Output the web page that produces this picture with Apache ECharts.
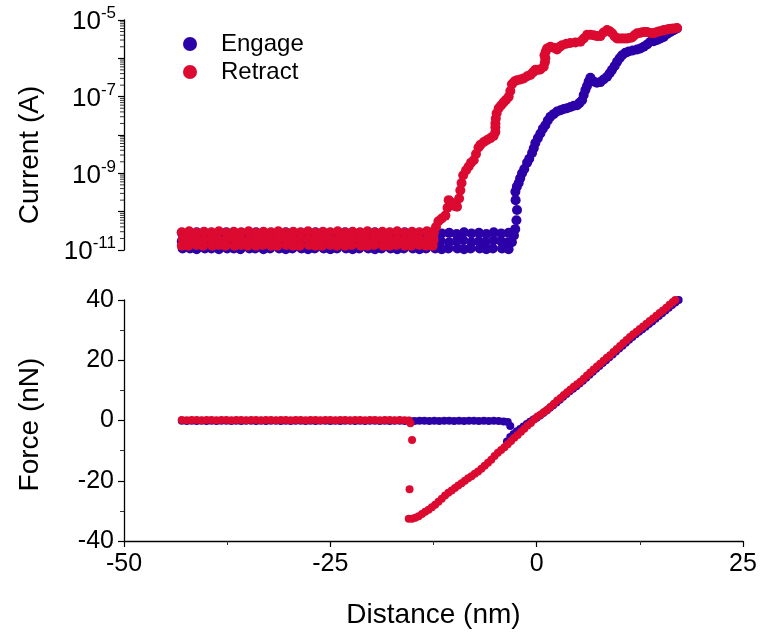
<!DOCTYPE html>
<html>
<head>
<meta charset="utf-8">
<script src="https://cdn.jsdelivr.net/npm/echarts@6/dist/echarts.min.js"></script>
<style>
html,body{margin:0;padding:0;background:#fff;}
#chart{width:762px;height:634px;}
</style>
</head>
<body>
<div id="chart"></div>
<script>
// ---------------- DATA ----------------
const xTicks = [-50, -25, 0, 25];
const currentTickExponents = [-11, -9, -7, -5];
const forceTicks = [-40, -20, 0, 20, 40];
const seriesNames = ['Engage', 'Retract'];

// Top panel: Current (A) vs Distance (nm)
const engageCurrentFloor = [
[-43.0,2.8e-11],[-43.0,1.7e-11],[-42.9,1.1e-11],
[-42.1,2.6e-11],[-42.0,1.6e-11],[-42.0,1.1e-11],
[-41.2,2.9e-11],[-41.1,1.8e-11],[-41.2,1.05e-11],
[-40.3,2.7e-11],[-40.3,1.6e-11],[-40.2,1.1e-11],
[-39.4,2.8e-11],[-39.5,1.7e-11],[-39.4,1.1e-11],
[-38.5,2.6e-11],[-38.4,1.6e-11],[-38.5,1.05e-11],
[-37.6,2.9e-11],[-37.6,1.8e-11],[-37.5,1.1e-11],
[-36.7,2.7e-11],[-36.8,1.6e-11],[-36.7,1.1e-11],
[-35.8,2.8e-11],[-35.8,1.7e-11],[-35.9,1.05e-11],
[-34.9,2.6e-11],[-34.9,1.6e-11],[-34.8,1.1e-11],
[-34.0,2.9e-11],[-34.0,1.8e-11],[-34.1,1.1e-11],
[-33.1,2.7e-11],[-33.2,1.7e-11],[-33.1,1.05e-11],
[-32.2,2.8e-11],[-32.2,1.6e-11],[-32.3,1.1e-11],
[-31.3,2.6e-11],[-31.3,1.7e-11],[-31.2,1.1e-11],
[-30.4,2.9e-11],[-30.5,1.8e-11],[-30.4,1.05e-11],
[-29.5,2.7e-11],[-29.5,1.6e-11],[-29.6,1.1e-11],
[-28.6,2.8e-11],[-28.6,1.7e-11],[-28.5,1.1e-11],
[-27.7,2.6e-11],[-27.8,1.6e-11],[-27.7,1.05e-11],
[-26.8,2.9e-11],[-26.8,1.8e-11],[-26.9,1.1e-11],
[-25.9,2.7e-11],[-25.9,1.7e-11],[-25.8,1.1e-11],
[-25.0,2.8e-11],[-25.1,1.6e-11],[-25.0,1.05e-11],
[-24.1,2.6e-11],[-24.1,1.7e-11],[-24.2,1.1e-11],
[-23.2,2.9e-11],[-23.2,1.8e-11],[-23.1,1.1e-11],
[-22.3,2.7e-11],[-22.4,1.6e-11],[-22.3,1.05e-11],
[-21.4,2.8e-11],[-21.4,1.7e-11],[-21.5,1.1e-11],
[-20.5,2.6e-11],[-20.5,1.6e-11],[-20.4,1.1e-11],
[-19.6,2.9e-11],[-19.7,1.8e-11],[-19.6,1.05e-11],
[-18.7,2.7e-11],[-18.7,1.7e-11],[-18.8,1.1e-11],
[-17.8,2.8e-11],[-17.8,1.6e-11],[-17.7,1.1e-11],
[-16.9,2.6e-11],[-17.0,1.7e-11],[-16.9,1.05e-11],
[-16.0,2.9e-11],[-16.0,1.8e-11],[-16.1,1.1e-11],
[-15.1,2.7e-11],[-15.1,1.6e-11],[-15.0,1.1e-11],
[-14.2,2.8e-11],[-14.3,1.7e-11],[-14.2,1.05e-11],
[-13.3,2.6e-11],[-13.3,1.6e-11],[-13.4,1.1e-11],
[-12.4,2.9e-11],[-12.4,1.8e-11],[-12.3,1.1e-11],
[-11.5,2.7e-11],[-11.6,1.7e-11],[-11.5,1.05e-11],
[-10.6,2.8e-11],[-10.6,1.6e-11],[-10.7,1.1e-11],
[-9.7,2.6e-11],[-9.7,1.7e-11],[-9.6,1.1e-11],
[-8.8,2.9e-11],[-8.9,1.8e-11],[-8.8,1.05e-11],
[-7.9,2.7e-11],[-7.9,1.6e-11],[-8.0,1.1e-11],
[-7.0,2.8e-11],[-7.0,1.7e-11],[-6.9,1.1e-11],
[-6.1,2.6e-11],[-6.2,1.6e-11],[-6.1,1.05e-11],
[-5.2,2.9e-11],[-5.2,1.8e-11],[-5.3,1.1e-11],
[-4.3,2.7e-11],[-4.3,1.7e-11],[-4.2,1.1e-11],
[-3.4,2.8e-11],[-3.5,1.6e-11],[-3.4,1.05e-11]
];
const engageCurrentRise = [
[-3.0,1.6e-11],[-2.75,2.4e-11],[-2.6,3.5e-11],[-2.45,6.0e-11],[-2.38,1.1e-10],
[-2.55,2.0e-10],[-2.58,3.3e-10],[-2.4,4.5e-10],[-2.18,5.6e-10],[-2.0,7.4e-10],
[-1.77,1.0e-9],[-1.5,1.3e-9],[-1.16,1.9e-9],[-0.9,2.4e-9],[-0.56,3.4e-9],
[-0.35,4.5e-9],[-0.16,6.2e-9],[0.15,8.3e-9],[0.45,1.1e-8],[0.75,1.45e-8],
[1.05,1.8e-8],[1.35,2.4e-8],[1.66,3.0e-8],[2.05,3.5e-8],[2.47,4.1e-8],
[2.9,4.4e-8],[3.3,4.8e-8],[3.68,5.0e-8],[4.1,5.4e-8],[4.5,5.8e-8],
[4.9,6.0e-8],[5.2,6.9e-8],[5.5,8.1e-8],[5.7,1.1e-7],[5.9,1.5e-7],
[6.1,1.9e-7],[6.3,2.5e-7],[6.51,3.1e-7],[6.9,2.5e-7],[7.3,2.3e-7],
[7.72,2.4e-7],[8.1,2.8e-7],[8.53,3.3e-7],[8.85,4.1e-7],[9.13,5.0e-7],
[9.45,6.3e-7],[9.74,8.1e-7],[10.05,1.0e-6],[10.35,1.2e-6],[10.75,1.4e-6],
[11.15,1.5e-6],[11.65,1.6e-6],[12.17,1.7e-6],[12.57,1.8e-6],[12.97,2.0e-6],
[13.38,2.3e-6],[13.78,2.7e-6],[14.19,2.8e-6],[14.59,3.0e-6],[15.0,3.3e-6],
[15.39,3.6e-6],[15.8,4.3e-6],[16.2,4.9e-6],[16.6,5.4e-6],[17.0,6.0e-6]
];
const retractCurrentFloor = [
[-43.0,2.9e-11],[-42.9,1.9e-11],[-43.0,1.3e-11],
[-42.1,3.1e-11],[-42.1,2.0e-11],[-42.2,1.3e-11],
[-41.2,2.8e-11],[-41.3,1.9e-11],[-41.2,1.35e-11],
[-40.3,3.0e-11],[-40.3,1.9e-11],[-40.4,1.3e-11],
[-39.4,2.9e-11],[-39.4,2.0e-11],[-39.3,1.3e-11],
[-38.5,3.1e-11],[-38.6,1.9e-11],[-38.5,1.35e-11],
[-37.6,2.8e-11],[-37.6,1.9e-11],[-37.7,1.3e-11],
[-36.7,3.0e-11],[-36.7,2.0e-11],[-36.6,1.3e-11],
[-35.8,2.9e-11],[-35.9,1.9e-11],[-35.8,1.35e-11],
[-34.9,3.1e-11],[-34.9,1.9e-11],[-35.0,1.3e-11],
[-34.0,2.8e-11],[-34.0,2.0e-11],[-34.0,1.3e-11],
[-33.1,3.0e-11],[-33.1,1.9e-11],[-33.2,1.35e-11],
[-32.2,2.9e-11],[-32.3,1.9e-11],[-32.2,1.3e-11],
[-31.3,3.1e-11],[-31.3,2.0e-11],[-31.4,1.3e-11],
[-30.4,2.8e-11],[-30.4,1.9e-11],[-30.3,1.35e-11],
[-29.5,3.0e-11],[-29.6,1.9e-11],[-29.5,1.3e-11],
[-28.6,2.9e-11],[-28.6,2.0e-11],[-28.7,1.3e-11],
[-27.7,3.1e-11],[-27.7,1.9e-11],[-27.6,1.35e-11],
[-26.8,2.8e-11],[-26.9,1.9e-11],[-26.8,1.3e-11],
[-25.9,3.0e-11],[-25.9,2.0e-11],[-26.0,1.3e-11],
[-25.0,2.9e-11],[-25.0,1.9e-11],[-25.0,1.35e-11],
[-24.1,3.1e-11],[-24.1,1.9e-11],[-24.2,1.3e-11],
[-23.2,2.8e-11],[-23.3,2.0e-11],[-23.2,1.3e-11],
[-22.3,3.0e-11],[-22.3,1.9e-11],[-22.4,1.35e-11],
[-21.4,2.9e-11],[-21.4,1.9e-11],[-21.3,1.3e-11],
[-20.5,3.1e-11],[-20.6,2.0e-11],[-20.5,1.3e-11],
[-19.6,2.8e-11],[-19.6,1.9e-11],[-19.7,1.35e-11],
[-18.7,3.0e-11],[-18.7,1.9e-11],[-18.6,1.3e-11],
[-17.8,2.9e-11],[-17.9,2.0e-11],[-17.8,1.3e-11],
[-16.9,3.1e-11],[-16.9,1.9e-11],[-17.0,1.35e-11],
[-16.0,2.8e-11],[-16.0,1.9e-11],[-16.0,1.3e-11],
[-15.1,3.0e-11],[-15.1,2.0e-11],[-15.2,1.3e-11],
[-14.2,2.9e-11],[-14.3,1.9e-11],[-14.2,1.35e-11],
[-13.3,3.1e-11],[-13.3,1.9e-11],[-13.4,1.3e-11],
[-12.7,2.9e-11],[-12.6,1.9e-11],[-12.6,1.3e-11]
];
const retractCurrentRise = [
[-12.5,1.8e-11],[-12.45,2.8e-11],[-12.2,4.0e-11],[-11.9,5.6e-11],[-11.5,6.6e-11],
[-11.06,7.9e-11],[-10.8,1.26e-10],[-10.66,2.0e-10],[-10.3,1.7e-10],[-9.95,1.4e-10],
[-9.65,1.35e-10],[-9.4,2.2e-10],[-9.25,3.6e-10],[-9.1,5.6e-10],[-8.9,8.9e-10],
[-8.55,1.2e-9],[-8.24,1.5e-9],[-7.95,1.9e-9],[-7.63,2.2e-9],[-7.35,3.2e-9],
[-7.05,4.7e-9],[-6.8,5.6e-9],[-6.4,6.6e-9],[-6.01,7.4e-9],[-5.6,8.3e-9],
[-5.21,9.5e-9],[-5.0,1.2e-8],[-5.0,1.6e-8],[-5.0,2.0e-8],[-4.95,2.7e-8],
[-4.85,3.7e-8],[-4.6,5.0e-8],[-4.3,6.0e-8],[-4.0,7.1e-8],[-3.7,8.3e-8],
[-3.39,1.0e-7],[-3.19,1.4e-7],[-3.0,2.1e-7],[-2.7,2.5e-7],[-2.38,2.7e-7],
[-1.98,2.8e-7],[-1.58,3.0e-7],[-1.15,3.4e-7],[-0.76,3.7e-7],[-0.45,4.3e-7],
[-0.16,5.0e-7],[0.15,5.0e-7],[0.45,5.1e-7],[0.85,6.0e-7],[1.0,7.9e-7],
[1.05,1.0e-6],[0.95,1.2e-6],[1.1,1.5e-6],[1.26,1.8e-6],[1.66,2.0e-6],
[2.05,1.9e-6],[2.47,1.7e-6],[2.8,2.0e-6],[3.08,2.2e-6],[3.6,2.4e-6],
[4.08,2.5e-6],[4.7,2.6e-6],[5.3,2.7e-6],[5.7,3.3e-6],[6.11,4.1e-6],
[6.5,4.1e-6],[6.91,4.0e-6],[7.3,3.8e-6],[7.72,3.8e-6],[8.1,4.7e-6],
[8.53,5.5e-6],[8.85,5.1e-6],[9.14,4.5e-6],[9.45,3.7e-6],[9.74,3.3e-6],
[10.05,3.3e-6],[10.35,3.3e-6],[10.65,3.3e-6],[10.95,3.3e-6],[11.25,3.4e-6],
[11.55,3.5e-6],[11.85,4.0e-6],[12.17,4.5e-6],[12.5,4.6e-6],[12.8,4.8e-6],
[13.1,4.9e-6],[13.38,4.9e-6],[13.8,4.6e-6],[14.18,4.5e-6],[14.5,4.8e-6],
[14.8,5.0e-6],[15.1,5.2e-6],[15.39,5.5e-6],[15.7,5.6e-6],[16.0,5.8e-6],
[16.3,5.9e-6],[16.6,6.0e-6],[17.0,6.2e-6]
];

// Bottom panel: Force (nN) vs Distance (nm)
const engageForceFlat = [
[-43.0,-0.1],[-42.4,-0.2],[-41.8,-0.1],[-41.2,-0.2],[-40.6,-0.1],[-40.0,-0.2],
[-39.4,-0.1],[-38.8,-0.2],[-38.2,-0.1],[-37.6,-0.1],[-37.0,-0.2],[-36.4,-0.1],
[-35.8,-0.2],[-35.2,-0.1],[-34.6,-0.1],[-34.0,-0.2],[-33.4,-0.1],[-32.8,-0.2],
[-32.2,-0.1],[-31.6,-0.1],[-31.0,-0.2],[-30.4,-0.1],[-29.8,-0.2],[-29.2,-0.1],
[-28.6,-0.1],[-28.0,-0.2],[-27.4,-0.1],[-26.8,-0.2],[-26.2,-0.1],[-25.6,-0.1],
[-25.0,-0.2],[-24.4,-0.1],[-23.8,-0.2],[-23.2,-0.1],[-22.6,-0.1],[-22.0,-0.2],
[-21.4,-0.1],[-20.8,-0.2],[-20.2,-0.1],[-19.6,-0.1],[-19.0,-0.2],[-18.4,-0.1],
[-17.8,-0.2],[-17.2,-0.1],[-16.6,-0.1],[-16.0,-0.2],[-15.4,-0.1],[-14.8,-0.2],
[-14.2,-0.1],[-13.6,-0.1],[-13.0,-0.2],[-12.4,-0.1],[-11.8,-0.2],[-11.2,-0.1],
[-10.6,-0.1],[-10.0,-0.2],[-9.4,-0.1],[-8.8,-0.2],[-8.2,-0.1],[-7.6,-0.1],
[-7.0,-0.2],[-6.4,-0.1],[-5.8,-0.2],[-5.2,-0.1],[-4.6,-0.2],[-4.0,-0.3],
[-3.5,-0.5],[-3.2,-1.8]
];
const engageForceContact = [
[-3.6,-7.0],[-3.2,-5.5],[-2.8,-4.5],[-2.4,-3.6],[-2.0,-2.8],[-1.6,-2.0],
[-1.2,-1.2],[-0.8,-0.4],[-0.4,0.3],[0.0,0.9],[0.4,1.7],[0.8,2.5],
[1.2,3.3],[1.6,4.2],[2.0,5.1],[2.4,6.0],[2.8,6.9],[3.2,7.9],
[3.6,8.8],[4.0,9.7],[4.4,10.5],[4.8,11.4],[5.2,12.3],[5.6,13.2],
[6.0,14.2],[6.4,15.2],[6.8,16.2],[7.2,17.2],[7.6,18.1],[8.0,19.1],
[8.4,20.0],[8.8,21.0],[9.2,21.9],[9.6,22.9],[10.0,23.9],[10.4,24.8],
[10.8,25.8],[11.2,26.8],[11.6,27.7],[12.0,28.6],[12.4,29.5],[12.8,30.3],
[13.2,31.1],[13.6,32.0],[14.0,32.9],[14.4,33.8],[14.8,34.7],[15.2,35.6],
[15.6,36.5],[16.0,37.4],[16.4,38.3],[16.8,39.2],[17.2,40.0]
];
const retractForceFlat = [
[-43.0,0.2],[-42.4,0.1],[-41.8,0.2],[-41.2,0.2],[-40.6,0.1],[-40.0,0.2],
[-39.4,0.2],[-38.8,0.1],[-38.2,0.2],[-37.6,0.2],[-37.0,0.1],[-36.4,0.2],
[-35.8,0.2],[-35.2,0.1],[-34.6,0.2],[-34.0,0.2],[-33.4,0.1],[-32.8,0.2],
[-32.2,0.2],[-31.6,0.1],[-31.0,0.2],[-30.4,0.2],[-29.8,0.1],[-29.2,0.2],
[-28.6,0.2],[-28.0,0.1],[-27.4,0.2],[-26.8,0.2],[-26.2,0.1],[-25.6,0.2],
[-25.0,0.2],[-24.4,0.1],[-23.8,0.2],[-23.2,0.2],[-22.6,0.1],[-22.0,0.2],
[-21.4,0.2],[-20.8,0.1],[-20.2,0.2],[-19.6,0.2],[-19.0,0.1],[-18.4,0.2],
[-17.8,0.2],[-17.2,0.1],[-16.6,0.2],[-16.0,0.1],[-15.5,0.0],
[-15.3,-0.9],[-15.1,-6.5],[-15.4,-22.8]
];
const retractForceContact = [
[-15.5,-32.6],[-15.1,-32.6],[-14.7,-32.3],[-14.3,-31.8],[-13.9,-31.0],[-13.5,-30.3],
[-13.1,-29.6],[-12.7,-28.8],[-12.3,-28.0],[-11.9,-27.0],[-11.5,-26.0],[-11.1,-24.9],
[-10.7,-24.0],[-10.3,-23.2],[-9.9,-22.4],[-9.5,-21.6],[-9.1,-20.8],[-8.7,-20.0],
[-8.3,-19.2],[-7.9,-18.5],[-7.5,-17.7],[-7.1,-16.9],[-6.7,-16.0],[-6.3,-15.0],
[-5.9,-14.0],[-5.5,-13.0],[-5.1,-11.8],[-4.7,-10.7],[-4.3,-9.8],[-3.9,-8.9],
[-3.5,-7.9],[-3.1,-6.8],[-2.7,-5.7],[-2.3,-4.8],[-1.9,-3.7],[-1.5,-2.7],
[-1.1,-1.7],[-0.7,-0.8],[-0.3,0.3],[0.1,1.3],[0.5,2.0],[0.9,2.8],
[1.3,3.6],[1.7,4.6],[2.1,5.6],[2.5,6.6],[2.9,7.5],[3.3,8.5],
[3.7,9.4],[4.1,10.3],[4.5,11.2],[4.9,12.0],[5.3,12.9],[5.7,13.9],
[6.1,14.9],[6.5,15.9],[6.9,16.9],[7.3,17.9],[7.7,18.8],[8.1,19.8],
[8.5,20.8],[8.9,21.7],[9.3,22.7],[9.7,23.7],[10.1,24.7],[10.5,25.7],
[10.9,26.7],[11.3,27.7],[11.7,28.6],[12.1,29.5],[12.5,30.4],[12.9,31.2],
[13.3,32.1],[13.7,33.0],[14.1,33.9],[14.5,34.8],[14.9,35.7],[15.3,36.5],
[15.7,37.4],[16.1,38.4],[16.5,39.3],[16.8,40.0]
];

// ---------------- STYLE ----------------
const FONT = '"Liberation Sans", Arial, Helvetica, sans-serif';
const BLUE = '#2c00a8';
const RED = '#dc0a30';
const AXIS = '#000';

// log-axis minor tick positions (axis decoration only)
const logMinorTicks = [];
for (let e = -11; e < -5; e++) {
  for (let k = 2; k <= 9; k++) logMinorTicks.push([xTicks[0], k * Math.pow(10, e)]);
}

const chart = echarts.init(document.getElementById('chart'), null, {renderer: 'canvas'});

const option = {
  animation: false,
  backgroundColor: '#fff',
  grid: [
    {left: 124, width: 619, top: 20, height: 230},
    {left: 124, width: 619, top: 300, height: 241}
  ],
  legend: {
    data: seriesNames,
    orient: 'vertical',
    left: 178,
    top: 27,
    itemGap: 4,
    itemWidth: 14,
    itemHeight: 14,
    icon: 'circle',
    textStyle: {fontFamily: FONT, fontSize: 24, color: '#000', padding: [0, 0, 0, 19]}
  },
  xAxis: [
    {
      gridIndex: 0, type: 'value', min: xTicks[0], max: xTicks[xTicks.length - 1], interval: 25,
      show: false
    },
    {
      gridIndex: 1, type: 'value', min: xTicks[0], max: xTicks[xTicks.length - 1], interval: 25,
      name: 'Distance (nm)', nameLocation: 'middle', nameGap: 60,
      nameTextStyle: {fontFamily: FONT, fontSize: 28, color: '#000'},
      axisLine: {onZero: false, lineStyle: {color: AXIS, width: 1.3}},
      axisTick: {length: 6, lineStyle: {color: AXIS, width: 1.2}},
      minorTick: {show: true, splitNumber: 2, length: 4, lineStyle: {color: '#333', width: 1}},
      splitLine: {show: false},
      axisLabel: {fontFamily: FONT, fontSize: 25, color: '#000', margin: 11}
    }
  ],
  yAxis: [
    {
      gridIndex: 0, type: 'log', logBase: 10,
      min: Math.pow(10, currentTickExponents[0]),
      max: Math.pow(10, currentTickExponents[currentTickExponents.length - 1]),
      interval: 1,
      name: 'Current (A)', nameLocation: 'middle', nameGap: 80,
      nameTextStyle: {fontFamily: FONT, fontSize: 28, color: '#000', padding: [0, 40, 0, 0]},
      axisLine: {show: true, onZero: false, lineStyle: {color: AXIS, width: 1.3}},
      axisTick: {show: true, length: 6, lineStyle: {color: AXIS, width: 1.2}},
      splitLine: {show: false},
      axisLabel: {
        margin: 8,
        formatter: function (v) {
          const e = Math.round(Math.log10(v));
          if (currentTickExponents.indexOf(e) < 0) return '';
          return '{b|10}{s|' + e + '}';
        },
        rich: {
          b: {fontFamily: FONT, fontSize: 26, color: '#000', lineHeight: 30, verticalAlign: 'bottom'},
          s: {fontFamily: FONT, fontSize: 17, color: '#000', lineHeight: 17, verticalAlign: 'top'}
        }
      }
    },
    {
      gridIndex: 1, type: 'value', min: forceTicks[0], max: forceTicks[forceTicks.length - 1], interval: 20,
      name: 'Force (nN)', nameLocation: 'middle', nameGap: 80,
      nameTextStyle: {fontFamily: FONT, fontSize: 28, color: '#000', padding: [0, 8, 0, 0]},
      axisLine: {show: true, onZero: false, lineStyle: {color: AXIS, width: 1.3}},
      axisTick: {show: true, length: 6, lineStyle: {color: AXIS, width: 1.2}},
      minorTick: {show: true, splitNumber: 2, length: 4, lineStyle: {color: '#333', width: 1}},
      splitLine: {show: false},
      axisLabel: {fontFamily: FONT, fontSize: 25, color: '#000', margin: 10}
    }
  ],
  series: [
    {
      name: 'Engage', type: 'scatter', xAxisIndex: 0, yAxisIndex: 0,
      symbolSize: 10, itemStyle: {color: BLUE, opacity: 1},
      data: engageCurrentFloor.concat(engageCurrentRise), z: 2
    },
    {
      name: 'Engage', type: 'scatter', xAxisIndex: 1, yAxisIndex: 1,
      symbolSize: 8, itemStyle: {color: BLUE, opacity: 1},
      data: engageForceFlat.concat(engageForceContact), z: 2
    },
    {
      name: 'Retract', type: 'scatter', xAxisIndex: 0, yAxisIndex: 0,
      symbolSize: 10, itemStyle: {color: RED, opacity: 1},
      data: retractCurrentFloor.concat(retractCurrentRise), z: 3
    },
    {
      name: 'Retract', type: 'scatter', xAxisIndex: 1, yAxisIndex: 1,
      symbolSize: 8, itemStyle: {color: RED, opacity: 1},
      data: retractForceFlat.concat(retractForceContact), z: 3
    },
    {
      name: 'logMinor', type: 'custom', xAxisIndex: 0, yAxisIndex: 0,
      silent: true, clip: false, z: 1,
      data: logMinorTicks,
      renderItem: function (params, api) {
        const p = api.coord([api.value(0), api.value(1)]);
        return {
          type: 'line',
          shape: {x1: p[0] - 4, y1: p[1], x2: p[0], y2: p[1]},
          style: {stroke: '#333', lineWidth: 1}
        };
      }
    }
  ]
};
chart.setOption(option);
</script>
</body>
</html>
